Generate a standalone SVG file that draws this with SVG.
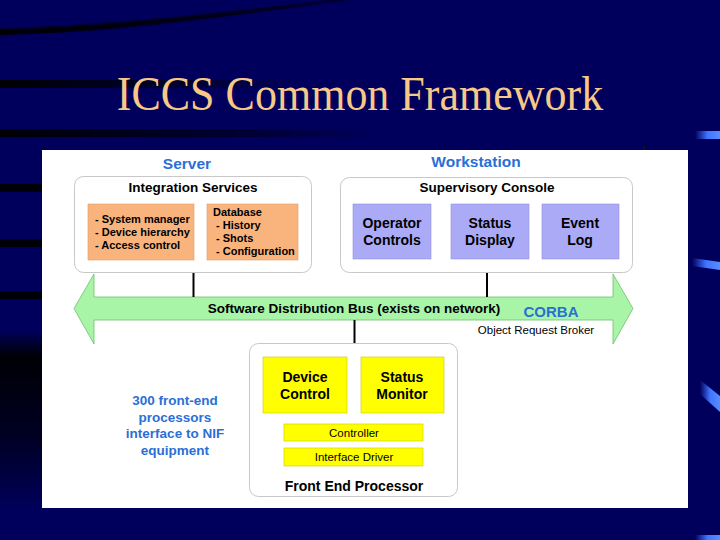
<svg xmlns="http://www.w3.org/2000/svg" width="720" height="540" viewBox="0 0 720 540">
<defs>
<style>
.t{font-family:"Liberation Sans",Arial,sans-serif;font-weight:bold;fill:#000;text-anchor:middle}
.r{font-family:"Liberation Sans",Arial,sans-serif;fill:#000;text-anchor:middle}
.blue{fill:#2a6fd6}
.grp{fill:#fff;stroke:#c8c8c8;stroke-width:1}
.org{fill:#f9b47e;stroke:#e09a66;stroke-width:0.6}
.pur{fill:#aaaaf6;stroke:#9090dc;stroke-width:0.6}
.yel{fill:#ffff00;stroke:#c8c800;stroke-width:0.6}
.wire{stroke:#000;stroke-width:2;fill:none}
</style>
<linearGradient id="leftDark" x1="0" y1="0" x2="0" y2="1">
<stop offset="0" stop-color="#000" stop-opacity="0"/>
<stop offset="0.15" stop-color="#000" stop-opacity="0.95"/>
<stop offset="0.6" stop-color="#000" stop-opacity="0.6"/>
<stop offset="1" stop-color="#000" stop-opacity="0"/>
</linearGradient>
<linearGradient id="fadeR" x1="0" y1="0" x2="1" y2="0">
<stop offset="0" stop-color="#000" stop-opacity="0.95"/>
<stop offset="0.6" stop-color="#000" stop-opacity="0.5"/>
<stop offset="1" stop-color="#000" stop-opacity="0"/>
</linearGradient>
<linearGradient id="lb" x1="0" y1="0" x2="1" y2="0">
<stop offset="0" stop-color="#3a6cff" stop-opacity="0"/>
<stop offset="0.5" stop-color="#3f74ff"/>
<stop offset="1" stop-color="#5a8cff"/>
</linearGradient>
</defs>

<!-- slide background -->
<rect x="0" y="0" width="720" height="540" fill="#00005c"/>
<path d="M0,34 C120,30 250,14 350,0 L330,0 C240,10 120,24 0,28 Z" fill="#000020" opacity="0.7"/>
<path d="M0,35 C110,33 230,18 340,0 L320,0 C220,14 110,27 0,30 Z" fill="url(#fadeR)"/>
<rect x="0" y="80" width="300" height="8" fill="url(#fadeR)"/>
<rect x="0" y="129" width="380" height="8" fill="url(#fadeR)"/>
<rect x="0" y="184" width="42" height="8" fill="#000" opacity="0.9"/>
<rect x="0" y="239" width="42" height="8" fill="#000" opacity="0.9"/>
<rect x="0" y="291" width="42" height="8" fill="#000" opacity="0.9"/>
<rect x="0" y="330" width="42" height="180" fill="url(#leftDark)"/>
<rect x="695" y="131" width="25" height="8" fill="url(#lb)"/>
<path d="M692,258 L720,262 L720,270 L692,266 Z" fill="url(#lb)"/>
<path d="M700,380 L720,396 L720,412 L700,394 Z" fill="url(#lb)"/>
<rect x="695" y="535" width="25" height="5" fill="url(#lb)"/>

<!-- title -->
<text x="360" y="110" font-family="'Liberation Serif','Times New Roman',serif" font-size="44" fill="#f8c888" text-anchor="middle" transform="translate(0,-11) scale(1,1.1)">ICCS Common Framework</text>

<!-- white panel -->
<rect x="42" y="150" width="646" height="358" fill="#fff"/>
<rect x="643" y="146" width="2" height="4" fill="#111"/>

<!-- connectors -->
<g id="connectors">
<path d="M74,308.5 L94,274 L94,297 L613,297 L613,274 L633,308.5 L613,344 L613,320 L94,320 L94,344 Z" fill="#a8f5a8" stroke="#6cbf6c" stroke-width="0.8"/>
<line class="wire" x1="193.5" y1="273" x2="193.5" y2="297"/>
<line class="wire" x1="487" y1="273" x2="487" y2="297"/>
<line class="wire" x1="354.5" y1="320" x2="354.5" y2="344"/>
<text class="t" x="354" y="313" font-size="13.5">Software Distribution Bus (exists on network)</text>
<text class="t blue" x="551" y="317" font-size="15">CORBA</text>
<text class="r" x="536" y="334" font-size="11.5">Object Request Broker</text>
</g>

<!-- Server -->
<g id="server">
<text class="t blue" x="187" y="169" font-size="15.5">Server</text>
<rect class="grp" x="74.5" y="176.5" width="237" height="96" rx="9"/>
<text class="t" x="193" y="192" font-size="13.5">Integration Services</text>
<g id="server-mgr">
<rect class="org" x="88" y="204" width="106" height="56"/>
<text x="95" y="223" font-family="'Liberation Sans',Arial,sans-serif" font-weight="bold" font-size="11">
<tspan x="95">- System manager</tspan><tspan x="95" dy="13">- Device hierarchy</tspan><tspan x="95" dy="13">- Access control</tspan></text>
</g>
<g id="server-db">
<rect class="org" x="207" y="204" width="91" height="56"/>
<text x="213" y="216" font-family="'Liberation Sans',Arial,sans-serif" font-weight="bold" font-size="11">
<tspan x="213">Database</tspan><tspan x="216" dy="13">- History</tspan><tspan x="216" dy="13">- Shots</tspan><tspan x="216" dy="13">- Configuration</tspan></text>
</g>
</g>

<!-- Workstation -->
<g id="workstation">
<text class="t blue" x="476" y="167" font-size="15.5">Workstation</text>
<rect class="grp" x="340.5" y="177.5" width="292" height="95" rx="9"/>
<text class="t" x="487" y="192" font-size="13.5">Supervisory Console</text>
<g id="operator-controls">
<rect class="pur" x="353" y="204" width="78" height="55"/>
<text class="t" x="392" y="228" font-size="14">Operator</text>
<text class="t" x="392" y="245" font-size="14">Controls</text>
</g>
<g id="status-display">
<rect class="pur" x="451" y="204" width="78" height="55"/>
<text class="t" x="490" y="228" font-size="14">Status</text>
<text class="t" x="490" y="245" font-size="14">Display</text>
</g>
<g id="event-log">
<rect class="pur" x="542" y="204" width="77" height="55"/>
<text class="t" x="580" y="228" font-size="14">Event</text>
<text class="t" x="580" y="245" font-size="14">Log</text>
</g>
</g>

<!-- Front End Processor -->
<g id="fep">
<rect class="grp" x="249.5" y="343.5" width="208" height="153" rx="9"/>
<g id="device-control">
<rect class="yel" x="263" y="357" width="84" height="56"/>
<text class="t" x="305" y="382" font-size="14">Device</text>
<text class="t" x="305" y="399" font-size="14">Control</text>
</g>
<g id="status-monitor">
<rect class="yel" x="361" y="357" width="83" height="56"/>
<text class="t" x="402" y="382" font-size="14">Status</text>
<text class="t" x="402" y="399" font-size="14">Monitor</text>
</g>
<g id="controller">
<rect class="yel" x="284" y="424" width="139" height="17"/>
<text class="r" x="354" y="436.5" font-size="11.5">Controller</text>
</g>
<g id="interface-driver">
<rect class="yel" x="284" y="448" width="139" height="18"/>
<text class="r" x="354" y="461" font-size="11.5">Interface Driver</text>
</g>
<text class="t" x="354" y="491" font-size="14">Front End Processor</text>
</g>

<!-- note -->
<g id="fep-note">
<text class="t blue" x="175" y="405" font-size="13.5">300 front-end</text>
<text class="t blue" x="175" y="421.5" font-size="13.5">processors</text>
<text class="t blue" x="175" y="438" font-size="13.5">interface to NIF</text>
<text class="t blue" x="175" y="454.5" font-size="13.5">equipment</text>
</g>
</svg>
